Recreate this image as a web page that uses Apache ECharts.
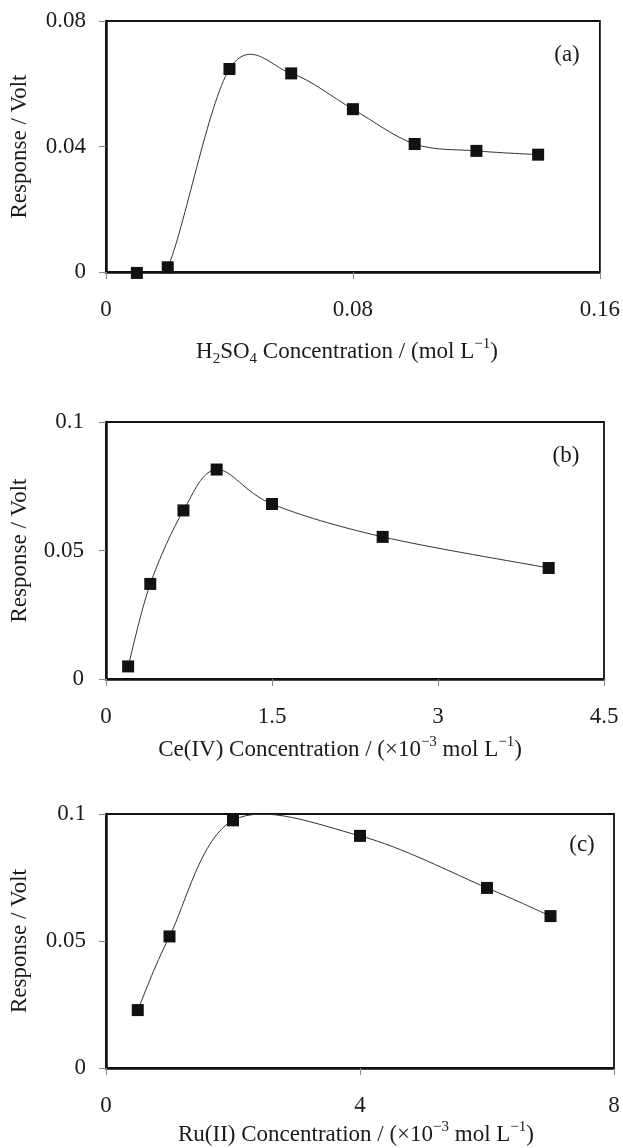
<!DOCTYPE html>
<html>
<head>
<meta charset="utf-8">
<title>Response vs concentration</title>
<script src="https://cdn.jsdelivr.net/npm/echarts@6/dist/echarts.min.js"></script>
<style>
html, body { margin: 0; padding: 0; background: #fff; }
#chart { width: 623px; height: 1148px; }
</style>
</head>
<body>
<div id="chart"></div>
<script>
// (a) H2SO4
var acidConc = [0.01, 0.02, 0.04, 0.06, 0.08, 0.10, 0.12, 0.14];
var acidResp = [-0.0003, 0.0015, 0.0647, 0.0633, 0.0519, 0.0408, 0.0386, 0.0374];
// (b) Ce(IV)
var ceConc = [0.2, 0.4, 0.7, 1.0, 1.5, 2.5, 4.0];
var ceResp = [0.0049, 0.0370, 0.0656, 0.0815, 0.0681, 0.0553, 0.0432];
// (c) Ru(II)
var ruConc = [0.5, 1, 2, 4, 6, 7];
var ruResp = [0.0228, 0.0518, 0.0975, 0.0914, 0.0709, 0.0598];

// tick labels
var xTicksA = [0, 0.08, 0.16];
var yTicksA = [0, 0.04, 0.08];
var xTicksB = [0, 1.5, 3, 4.5];
var yTicksB = [0, 0.05, 0.1];
var xTicksC = [0, 4, 8];
var yTicksC = [0, 0.05, 0.1];

var panelLabels = ['(a)', '(b)', '(c)'];
var yTitle = 'Response / Volt';
var xTitleA = '{t|H}{sub|2}{t|SO}{sub|4}{t| Concentration / (mol L}{sup|\u22121}{t|)}';
var xTitleB = '{t|Ce(IV) Concentration / (\u00d710}{sup|\u22123}{t| mol L}{sup|\u22121}{t|)}';
var xTitleC = '{t|Ru(II) Concentration / (\u00d710}{sup|\u22123}{t| mol L}{sup|\u22121}{t|)}';

var FONT = "'Liberation Serif', 'Times New Roman', serif";
var INK = '#1a1a1a';

var rich = {
  t: { fontSize: 23, fontFamily: FONT, color: INK, lineHeight: 30 },
  sup: { fontSize: 15, fontFamily: FONT, color: INK, lineHeight: 18, verticalAlign: 'top' },
  sub: { fontSize: 15, fontFamily: FONT, color: INK, lineHeight: 16, verticalAlign: 'bottom' }
};

function zip(xs, ys) {
  return xs.map(function (x, i) { return [x, ys[i]]; });
}

var grids = [
  { left: 104, top: 21, width: 496, height: 251 },
  { left: 106, top: 422, width: 498, height: 257 },
  { left: 106, top: 814, width: 508, height: 254 }
];
var xTicks = [xTicksA, xTicksB, xTicksC];
var yTicks = [yTicksA, yTicksB, yTicksC];
var xTitles = [xTitleA, xTitleB, xTitleC];
var xNameGap = [65, 56, 52];
var xNamePad = [[0, 12, 0, 0], [0, 30, 0, 0], [0, 8, 0, 0]];
var yLabelMargin = [20, 22, 20];
var points = [zip(acidConc, acidResp), zip(ceConc, ceResp), zip(ruConc, ruResp)];
var labelPos = [[567, 55], [566, 456], [582, 845]];

var axisLine = { show: true, lineStyle: { color: '#111', width: 2.5 } };
var axisTick = { show: true, inside: false, length: 7, lineStyle: { color: '#888', width: 1 } };

// smoothed curve like the spreadsheet one: each segment is a cubic
// bezier whose handles come from the neighbouring points (tension 1/6)
function smoothSegment(params, api) {
  var i = params.dataIndexInside;
  var n = params.dataInsideLength;
  if (i >= n - 1) return null;
  function pt(k) {
    k = Math.max(0, Math.min(n - 1, k));
    return api.coord([api.value(0, k), api.value(1, k)]);
  }
  var p0 = pt(i - 1), p1 = pt(i), p2 = pt(i + 1), p3 = pt(i + 2);
  return {
    type: 'bezierCurve',
    shape: {
      x1: p1[0], y1: p1[1], x2: p2[0], y2: p2[1],
      cpx1: p1[0] + (p2[0] - p0[0]) / 6, cpy1: p1[1] + (p2[1] - p0[1]) / 6,
      cpx2: p2[0] - (p3[0] - p1[0]) / 6, cpy2: p2[1] - (p3[1] - p1[1]) / 6
    },
    style: { stroke: '#333', lineWidth: 1, fill: 'none' }
  };
}

var series = [];
points.forEach(function (d, i) {
  series.push({
    type: 'custom', xAxisIndex: i, yAxisIndex: i, data: d,
    encode: { x: 0, y: 1 }, clip: true, z: 2,
    renderItem: smoothSegment
  });
  series.push({
    type: 'scatter', xAxisIndex: i, yAxisIndex: i, data: d,
    symbol: 'rect', symbolSize: 12, clip: false, z: 3,
    itemStyle: { color: '#111', opacity: 1 }
  });
});

var option = {
  animation: false,
  backgroundColor: '#fff',
  grid: grids.map(function (g) {
    return Object.assign({ show: true, borderColor: '#111', borderWidth: 1.8, containLabel: false }, g);
  }),
  xAxis: grids.map(function (g, i) {
    var t = xTicks[i];
    return {
      type: 'value', gridIndex: i,
      min: t[0], max: t[t.length - 1], interval: t[1] - t[0],
      axisLine: axisLine, axisTick: axisTick, splitLine: { show: false },
      axisLabel: { margin: 26, fontSize: 23, fontFamily: FONT, color: INK },
      name: xTitles[i], nameLocation: 'middle', nameGap: xNameGap[i],
      nameTextStyle: { rich: rich, padding: xNamePad[i] }
    };
  }),
  yAxis: grids.map(function (g, i) {
    var t = yTicks[i];
    return {
      type: 'value', gridIndex: i,
      min: t[0], max: t[t.length - 1], interval: t[1] - t[0],
      axisLine: axisLine, axisTick: axisTick, splitLine: { show: false },
      axisLabel: { margin: yLabelMargin[i], fontSize: 23, fontFamily: FONT, color: INK },
      name: yTitle, nameLocation: 'middle', nameGap: 74,
      nameTextStyle: { fontSize: 23, fontFamily: FONT, color: INK, lineHeight: 24 }
    };
  }),
  series: series,
  graphic: labelPos.map(function (p, i) {
    return {
      type: 'text', x: p[0], y: p[1],
      style: { text: panelLabels[i], fontSize: 23, fontFamily: FONT, fill: INK, align: 'center', verticalAlign: 'middle' }
    };
  })
};

var chart = echarts.init(document.getElementById('chart'));
chart.setOption(option);
</script>
</body>
</html>
